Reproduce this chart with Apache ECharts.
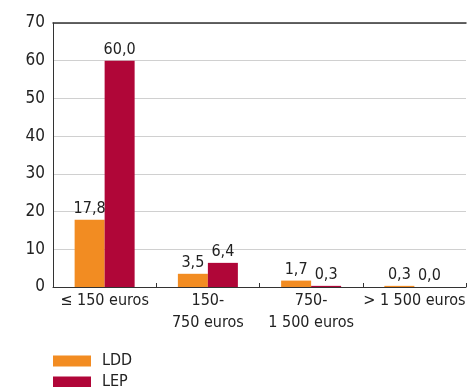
<!DOCTYPE html>
<html>
<head>
<meta charset="utf-8">
<script src="https://cdn.jsdelivr.net/npm/echarts@6/dist/echarts.min.js"></script>
<style>
  html, body { margin: 0; padding: 0; background: #fff; }
  #chart { width: 468px; height: 387px; }
</style>
</head>
<body>
<div id="chart"></div>
<script>
var categories = ["≤ 150 euros", "150-\n750 euros", "750-\n1 500 euros", "> 1 500 euros"];
var ldd = [17.8, 3.5, 1.7, 0.3];
var lep = [60.0, 6.4, 0.3, 0.0];
var yTicks = [0, 10, 20, 30, 40, 50, 60, 70];

var FONT = "'Liberation Sans Narrow', 'DejaVu Sans Condensed', 'Liberation Sans', sans-serif";

function fmt(v) {
    return v.toFixed(1).replace(".", ",");
}

// one legend block per series, stacked by hand (fits better than one vertical legend)
function legendFor(name, top) {
    return {
        orient: 'vertical',
        left: 53,
        top: top,
        padding: 0,
        itemWidth: 38,
        itemHeight: 11,
        icon: 'rect',
        textStyle: {fontFamily: FONT, fontSize: 16, color: '#222', padding: [0, 0, 0, 6]},
        data: [name]
    };
}

var myChart = echarts.init(document.getElementById("chart"));

var option = {
    backgroundColor: '#fff',
    animation: false,
    textStyle: {fontFamily: FONT},
    grid: {
        left: 53,
        right: -2,
        top: 23,
        bottom: 100
    },
    legend: [legendFor('LDD', 353), legendFor('LEP', 374)],
    xAxis: [
        {
            type: 'category',
            data: categories,
            axisLine: {lineStyle: {color: '#333', width: 1}},
            axisTick: {show: true, inside: true, length: 4, lineStyle: {color: '#333'}},
            axisLabel: {
                fontFamily: FONT,
                fontSize: 16,
                color: '#222',
                lineHeight: 22,
                margin: 3,
                interval: 0
            }
        },
        {
            type: 'category',
            position: 'top',
            data: categories,
            axisLine: {show: true, lineStyle: {color: '#333', width: 1.5}},
            axisTick: {show: false},
            axisLabel: {show: false}
        }
    ],
    yAxis: {
        type: 'value',
        min: yTicks[0],
        max: yTicks[yTicks.length - 1],
        interval: 10,
        axisLine: {show: true, lineStyle: {color: '#333', width: 1}},
        axisTick: {show: false},
        axisLabel: {fontFamily: FONT, fontSize: 17, color: '#222', margin: 8},
        splitLine: {show: true, lineStyle: {color: '#d0d0d0', width: 1}}
    },
    series: [
        {
            name: 'LDD',
            type: 'bar',
            data: ldd,
            barWidth: 30,
            barGap: '0%',
            itemStyle: {color: '#F28C22'},
            label: {
                show: true,
                position: 'top',
                distance: 3,
                fontFamily: FONT,
                fontSize: 16,
                color: '#222',
                formatter: function (p) { return fmt(p.value); }
            }
        },
        {
            name: 'LEP',
            type: 'bar',
            data: lep,
            barWidth: 30,
            barGap: '0%',
            itemStyle: {color: '#B00638'},
            label: {
                show: true,
                position: 'top',
                distance: 3,
                fontFamily: FONT,
                fontSize: 16,
                color: '#222',
                formatter: function (p) { return fmt(p.value); }
            }
        }
    ]
};

myChart.setOption(option);
</script>
</body>
</html>
